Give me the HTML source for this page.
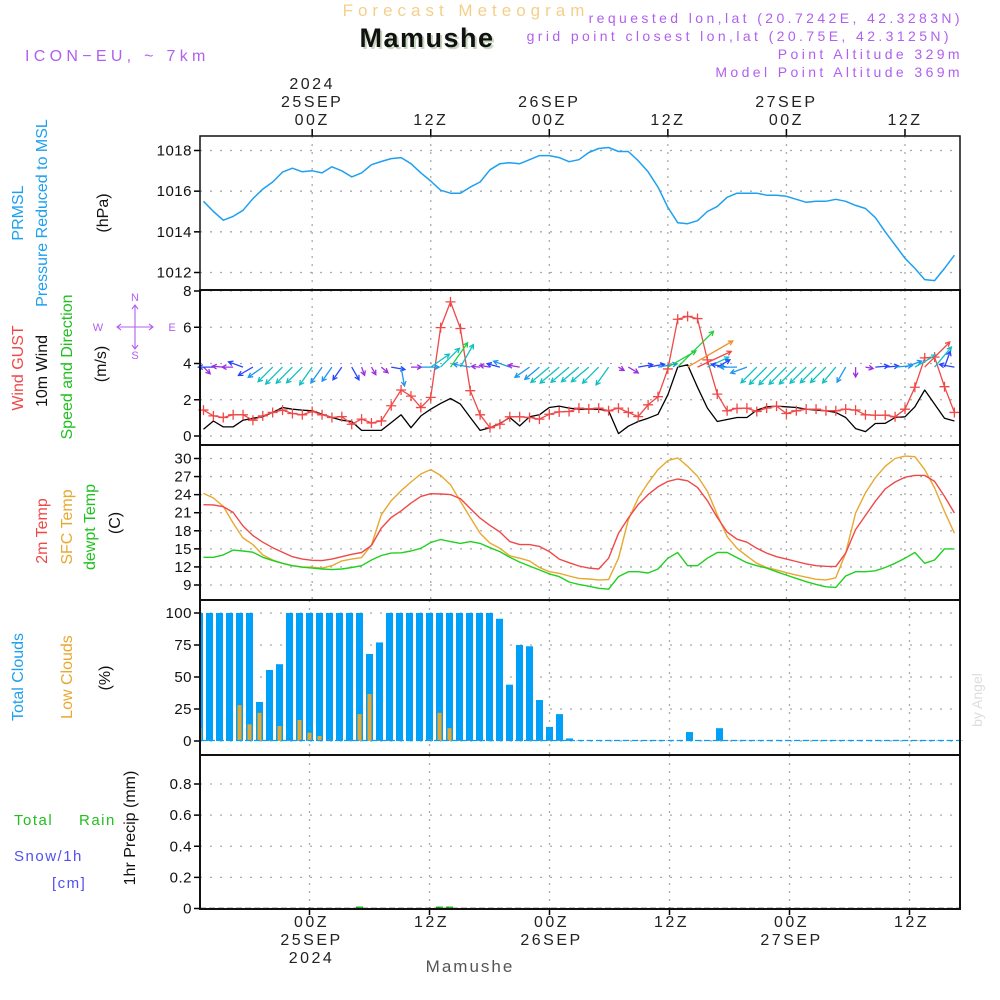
<!DOCTYPE html>
<html><head><meta charset="utf-8"><title>Forecast Meteogram Mamushe</title>
<style>
html,body{margin:0;padding:0;background:#fff;}
svg{display:block;}
text{font-family:"Liberation Sans",sans-serif;}
</style></head>
<body>
<svg id="chart" width="1000" height="1000" viewBox="0 0 1000 1000" xmlns="http://www.w3.org/2000/svg">
<g id="header">
<text x="466" y="16" text-anchor="middle" font-size="17" fill="#f5cf8a" letter-spacing="5">Forecast Meteogram</text>
<text x="429" y="49" text-anchor="middle" font-size="27" font-weight="bold" font-family="Liberation Serif, serif" fill="#c8d8c0" letter-spacing="1.5">Mamushe</text>
<text x="427" y="47" text-anchor="middle" font-size="27" font-weight="bold" font-family="Liberation Serif, serif" fill="#111" letter-spacing="1.5">Mamushe</text>
<text x="25" y="61" font-size="16" fill="#b060f0" letter-spacing="4.3">ICON−EU, ~ 7km</text>
<text x="963" y="23" text-anchor="end" font-size="14" fill="#b060f0" letter-spacing="3.4">requested lon,lat (20.7242E, 42.3283N)</text>
<text x="952" y="41" text-anchor="end" font-size="14" fill="#b060f0" letter-spacing="3.4">grid point closest lon,lat (20.75E, 42.3125N)</text>
<text x="963" y="59" text-anchor="end" font-size="14" fill="#b060f0" letter-spacing="3.4">Point Altitude 329m</text>
<text x="963" y="77" text-anchor="end" font-size="14" fill="#b060f0" letter-spacing="3.4">Model Point Altitude 369m</text>
</g>
<g id="grid"></g>
<g id="marks"></g>
<g id="frames"></g>
<g id="labels"></g>
<text x="982" y="700" font-size="14" font-family="Liberation Serif, serif" fill="#ddd" transform="rotate(-90 982 700)" text-anchor="middle">by Angel</text>
<text x="470" y="972" text-anchor="middle" font-size="17" font-family="Liberation Serif, serif" fill="#555" letter-spacing="2">Mamushe</text>
</svg>
<script>
const pressure = [1015.5,1015.0,1014.57,1014.76,1015.06,1015.63,1016.1,1016.45,1016.94,1017.13,1016.95,1017.0,1016.9,1017.2,1017.0,1016.7,1016.9,1017.3,1017.46,1017.6,1017.65,1017.35,1016.9,1016.5,1016.05,1015.9,1015.9,1016.2,1016.45,1017.05,1017.35,1017.4,1017.35,1017.55,1017.75,1017.75,1017.65,1017.45,1017.55,1017.9,1018.1,1018.15,1017.95,1017.95,1017.5,1016.95,1016.2,1015.2,1014.45,1014.4,1014.55,1015.0,1015.25,1015.7,1015.9,1015.9,1015.9,1015.8,1015.8,1015.75,1015.6,1015.45,1015.5,1015.5,1015.6,1015.5,1015.3,1015.15,1014.7,1014.0,1013.35,1012.7,1012.2,1011.65,1011.6,1012.2,1012.85];
const gust = [1.43,1.11,1.02,1.17,1.17,0.87,1.11,1.3,1.43,1.24,1.17,1.35,1.17,1.02,1.07,0.65,0.93,0.72,0.83,1.67,2.54,2.2,1.57,2.13,5.98,7.4,5.93,2.5,1.17,0.46,0.65,1.06,1.06,1.02,0.93,1.2,1.33,1.35,1.54,1.5,1.54,1.39,1.54,1.3,1.07,1.72,2.17,3.7,6.44,6.6,6.48,4.2,2.31,1.39,1.52,1.54,1.35,1.54,1.65,1.24,1.39,1.48,1.48,1.39,1.39,1.48,1.43,1.17,1.15,1.15,1.06,1.48,2.69,4.31,4.35,2.72,1.3];
const windSpeed = [0.37,0.83,0.5,0.5,0.87,0.98,1.06,1.3,1.57,1.48,1.43,1.39,1.2,1.02,0.87,0.8,0.31,0.31,0.31,0.74,1.17,0.46,1.11,1.48,1.8,2.07,1.76,1.02,0.31,0.46,0.69,1.02,0.56,1.06,1.17,1.57,1.65,1.54,1.48,1.48,1.48,1.39,0.13,0.54,0.8,0.98,1.2,2.28,3.8,3.93,2.69,1.54,0.8,0.91,1.02,1.02,1.43,1.61,1.65,1.61,1.57,1.48,1.43,1.39,1.3,1.02,0.41,0.24,0.69,0.7,1.02,1.06,1.61,2.54,1.76,0.98,0.83];
const windDir = [135,270,275,270,290,240,235,225,225,225,225,215,215,215,215,150,160,150,130,100,170,90,90,55,45,35,30,280,275,280,285,290,280,235,230,230,230,230,230,230,225,215,120,120,80,80,80,60,45,60,65,65,60,280,270,250,225,225,225,225,225,225,225,225,220,210,180,100,85,85,85,70,60,45,40,20,280];
const temp2m = [22.33,22.3,22.0,21.05,18.8,17.2,16.1,15.2,14.45,13.7,13.3,13.1,13.05,13.3,13.7,14.1,14.4,15.55,18.45,20.2,21.3,22.6,23.7,24.15,24.1,24.0,23.35,21.7,20.1,18.9,17.8,16.2,15.7,15.7,15.4,14.55,13.3,12.7,12.15,11.8,11.65,13.45,17.6,20.1,22.35,24.0,25.3,26.2,26.6,26.3,25.2,23.0,20.2,17.8,16.6,16.1,15.1,14.3,13.7,13.3,12.9,12.5,12.2,12.1,12.05,14.3,18.2,20.55,22.9,24.95,26.1,26.9,27.2,27.2,26.2,23.7,20.95];
const tempSfc = [24.2,23.45,22.05,19.3,16.8,15.7,14.0,13.15,12.6,12.2,12.0,11.95,11.8,12.2,13.0,13.3,13.55,15.65,20.65,23.0,24.65,26.1,27.45,28.15,27.2,25.65,22.9,20.2,17.6,15.95,15.1,13.85,13.45,13.0,11.9,11.2,10.95,10.5,10.1,10.0,9.85,9.9,13.45,19.8,23.45,25.95,28.15,29.65,30.1,28.7,27.05,24.55,20.65,17.05,15.1,13.8,12.6,11.9,11.5,11.05,10.65,10.3,9.95,9.85,10.2,14.3,20.95,24.3,26.8,28.7,30.0,30.4,30.3,28.15,25.1,21.2,17.6];
const dewpt = [13.6,13.6,14.0,14.8,14.65,14.45,13.6,13.05,12.6,12.2,11.95,11.8,11.65,11.55,11.65,11.9,12.2,13.15,13.9,14.3,14.35,14.65,15.1,16.05,16.55,16.2,15.9,16.2,15.9,15.2,14.55,13.6,12.8,12.15,11.5,10.85,10.4,9.5,9.1,8.8,8.45,8.3,10.4,11.2,11.2,11.0,11.65,13.45,14.4,12.2,12.2,13.45,14.4,14.4,13.55,12.7,12.2,11.8,11.2,10.65,10.1,9.55,9.1,8.7,8.6,10.5,11.2,11.2,11.35,11.9,12.6,13.45,14.4,12.6,13.15,15.0,15.0];
const totalClouds = [100,100,100,100,100,100,30.5,55.5,60,100,100,100,100,100,100,100,100,68,77,100,100,100,100,100,100,100,100,100,100,100,95.5,44,75,74,32,11,21,2,0.3,0.3,0.3,0.3,0.3,0.3,0.3,0.3,0.3,0.3,0.3,7,0.3,0.3,10,0.3,0.3,0.3,0.3,0.3,0.3,0.3,0.3,0.3,0.3,0.3,0.3,0.3,0.3,0.3,0.3,0.3,0.3,0.3,0.3,0.3,0.3,0.3,0.3];
const lowClouds = [10.4,0.3,0.3,0.3,28,13,22,0.3,11.7,0.3,16.4,6.5,3.9,1,0.3,0.3,21,36.7,0.3,0.3,0.3,0.3,0.3,1,22,10,0.3,0.3,0.3,0.3,0.3,0.3,0.3,0.3,0.3,0.3,0.3,0.3,0.3,0.3,0.3,0.3,0.3,0.3,0.3,0.3,0.3,0.3,0.3,0.3,0.3,0.3,0.3,0.3,0.3,0.3,0.3,0.3,0.3,0.3,0.3,0.3,0.3,0.3,0.3,0.3,0.3,0.3,0.3,0.3,0.3,0.3,0.3,0.3,0.3,0.3,0.3];
const rainIdx = [16,24,25];
const rainVals = [0.002,0.012,0.006];
const pressureTicks = [1012,1014,1016,1018];
const windTicks = [0,2,4,6,8];
const tempTicks = [9,12,15,18,21,24,27,30];
const cloudTicks = [0,25,50,75,100];
const precipTicks = [0,0.2,0.4,0.6,0.8];
const precipTickLabels = ["0","0.2","0.4","0.6","0.8"];
const timeIdx = [11,23,35,47,59,71];
const topTimeLabels = [["2024","25SEP","00Z"],["12Z"],["26SEP","00Z"],["12Z"],["27SEP","00Z"],["12Z"]];
const bottomTimeLabels = [["00Z","25SEP","2024"],["12Z"],["00Z","26SEP"],["12Z"],["00Z","27SEP"],["12Z"]];

const NS = "http://www.w3.org/2000/svg";
const X0 = 200, X1 = 960;
function xL(i){ return 203.5 + 9.88*i; }
function xC(k){ return 199.5 + 10*k; }
function lin(d0,d1,r0,r1){ return v => r0 + (v-d0)*(r1-r0)/(d1-d0); }
const yP = lin(1012,1018,272.5,150.5);
const yW = lin(0,8,436,291);
const yT = lin(9,30,585,458.5);
const yC = lin(0,100,741,613);
const yR = lin(0,0.8,908.5,784);
const panels = [[136,290],[290,445],[445,600],[600,755],[755,909]];

function mk(tag, attrs, parent){
  const e = document.createElementNS(NS, tag);
  for (const k in attrs) e.setAttribute(k, attrs[k]);
  parent.appendChild(e);
  return e;
}
const grid = document.getElementById('grid');
const marks = document.getElementById('marks');
const frames = document.getElementById('frames');
const labels = document.getElementById('labels');

function hgrid(vals, yf, name, tickLabels){
  vals.forEach((v,j) => {
    const y = yf(v);
    const l = mk('line', {x1:X0, x2:X1, y1:y, y2:y, stroke:'#aaa', 'stroke-width':1.3, 'stroke-dasharray':'2,8'}, grid);
    
    
    const t = mk('line', {x1:194, x2:X0, y1:y, y2:y, stroke:'#000', 'stroke-width':1.5}, frames);
    
    
    const tx = mk('text', {x:192, y:y+5, 'text-anchor':'end', 'font-size':15, fill:'#111', 'letter-spacing':0.5}, labels);
    tx.textContent = tickLabels ? tickLabels[j] : String(v);
    
    
  });
}
hgrid(pressureTicks, yP, 'pressure');
hgrid(windTicks, yW, 'wind');
hgrid(tempTicks, yT, 'temp');
hgrid(cloudTicks, yC, 'cloud');
hgrid(precipTicks, yR, 'precip', precipTickLabels);

timeIdx.forEach(i => {
  for (let p=0;p<3;p++){
    const g = mk('line', {x1:xL(i), x2:xL(i), y1:panels[p][0], y2:panels[p][1], stroke:'#aaa', 'stroke-width':1.3, 'stroke-dasharray':'2,6'}, grid);
    
    
  }
  for (let p=3;p<5;p++){
    const g = mk('line', {x1:xC(i), x2:xC(i), y1:panels[p][0], y2:panels[p][1], stroke:'#aaa', 'stroke-width':1.3, 'stroke-dasharray':'2,6'}, grid);
    
    
  }
  const tt = mk('line', {x1:xL(i), x2:xL(i), y1:129, y2:136, stroke:'#000', 'stroke-width':1.5}, frames);
  
  
  const bt = mk('line', {x1:xC(i), x2:xC(i), y1:909, y2:915, stroke:'#000', 'stroke-width':1.5}, frames);
  
  
});
timeIdx.forEach((i,j) => {
  const lines = topTimeLabels[j];
  lines.forEach((s,n) => {
    const t = mk('text', {x:xL(i), y:125 - (lines.length-1-n)*18, 'text-anchor':'middle', 'font-size':16, fill:'#222', 'letter-spacing':2.5}, labels);
    t.textContent = s;
    
    
  });
  bottomTimeLabels[j].forEach((s,n) => {
    const t = mk('text', {x:xC(i)+2, y:927 + n*18, 'text-anchor':'middle', 'font-size':16, fill:'#222', 'letter-spacing':2.5}, labels);
    t.textContent = s;
    
    
  });
});

function polyline(vals, yf, color, name, w){
  const pts = vals.map((v,i) => xL(i).toFixed(1) + ',' + yf(v).toFixed(1)).join(' ');
  const p = mk('polyline', {points:pts, fill:'none', stroke:color, 'stroke-width':w||1.4, 'stroke-linejoin':'round'}, marks);
  
  
}
polyline(pressure, yP, '#1ea0f0', 'pressure-line', 1.5);
polyline(windSpeed, yW, '#000', 'wind-speed-line', 1.3);
polyline(gust, yW, '#f04848', 'wind-gust-line', 1.3);
gust.forEach((v,i) => {
  const x = xL(i), y = yW(v);
  const c = mk('path', {d:`M${x-5},${y}H${x+5}M${x},${y-5}V${y+5}`, stroke:'#f04848', 'stroke-width':1.3}, marks);
  
  
});

function arrowColor(s){
  if (s < 0.6) return '#9b30e0';
  if (s < 1.0) return '#2844ff';
  if (s < 1.3) return '#1e96f0';
  if (s < 2.0) return '#10c0c0';
  if (s < 2.5) return '#20d040';
  if (s < 3.0) return '#f04848';
  if (s < 3.85) return '#20d040';
  return '#f09030';
}
windDir.forEach((d,i) => {
  const s = windSpeed[i];
  const len = 5 + 12*s;
  const a = d*Math.PI/180;
  const x0 = xL(i), y0 = yW(3.8);
  const x1 = x0 + len*Math.sin(a), y1 = y0 - len*Math.cos(a);
  const h = 5, ha = 0.5;
  const bx = -Math.sin(a), by = Math.cos(a);
  const hx1 = x1 + h*(bx*Math.cos(ha) - by*Math.sin(ha)), hy1 = y1 + h*(bx*Math.sin(ha) + by*Math.cos(ha));
  const hx2 = x1 + h*(bx*Math.cos(-ha) - by*Math.sin(-ha)), hy2 = y1 + h*(bx*Math.sin(-ha) + by*Math.cos(-ha));
  const ar = mk('path', {d:`M${x0.toFixed(1)},${y0.toFixed(1)}L${x1.toFixed(1)},${y1.toFixed(1)}M${hx1.toFixed(1)},${hy1.toFixed(1)}L${x1.toFixed(1)},${y1.toFixed(1)}L${hx2.toFixed(1)},${hy2.toFixed(1)}`, stroke:arrowColor(s), 'stroke-width':1.3, fill:'none'}, marks);
  
  
});

polyline(tempSfc, yT, '#e8a830', 'sfc-temp-line', 1.4);
polyline(temp2m, yT, '#f04848', 'temp-2m-line', 1.4);
polyline(dewpt, yT, '#20d020', 'dewpoint-line', 1.4);

totalClouds.forEach((v,k) => {
  const x = Math.max(X0, xC(k) - 3.5), x2 = xC(k) + 3.5;
  const y = yC(v);
  const r = mk('rect', {x:x, y:y, width:Math.max(0,x2-x), height:yC(0)-y, fill:'#00a0f8'}, marks);
  
  
});
lowClouds.forEach((v,k) => {
  const x = Math.max(X0, xC(k) - 2), x2 = xC(k) + 2;
  const y = yC(v);
  const r = mk('rect', {x:x, y:y, width:Math.max(0,x2-x), height:yC(0)-y, fill:'#e8a830'}, marks);
  
  
});
const zl = mk('line', {x1:X0, x2:X1, y1:yC(0)-0.5, y2:yC(0)-0.5, stroke:'#00a0f8', 'stroke-width':1.2, 'stroke-dasharray':'6,3'}, marks);


rainIdx.forEach((k,j) => {
  const y = yR(rainVals[j]);
  const r = mk('rect', {x:xC(k)-3.5, y:Math.min(y, yR(0)-2), width:7, height:Math.max(2, yR(0)-y), fill:'#20c020'}, marks);
  
  
});
const pz = mk('line', {x1:X0, x2:X1, y1:yR(0), y2:yR(0), stroke:'#222', 'stroke-width':1.5, 'stroke-dasharray':'6,3'}, marks);



panels.forEach((p,j) => {
  const r = mk('rect', {x:X0, y:p[0], width:X1-X0, height:p[1]-p[0], fill:'none', stroke:'#111', 'stroke-width':j===0?1.5:2}, frames);
  
  
});

function rot(txt, x, y, color, size, name){
  const t = mk('text', {x:x, y:y, 'text-anchor':'middle', 'font-size':size||16, fill:color, transform:`rotate(-90 ${x} ${y})`}, labels);
  t.textContent = txt;
  
  
}
rot('PRMSL', 23, 213, '#1ea0f0', 16, 'prmsl-title');
rot('Pressure Reduced to MSL', 47, 213, '#1ea0f0', 16, 'pressure-title');
rot('(hPa)', 108, 213, '#111', 16, 'pressure-unit');
rot('Wind GUST', 23, 368, '#f04848', 16, 'gust-title');
rot('10m Wind', 47, 371, '#111', 16, 'wind-title');
rot('Speed and Direction', 72, 367, '#20c020', 16, 'wind-direction-title');
rot('(m/s)', 106, 364, '#111', 16, 'wind-unit');
rot('2m Temp', 47, 531, '#f04848', 16, 'temp-2m-title');
rot('SFC Temp', 72, 527, '#e8a830', 16, 'sfc-temp-title');
rot('dewpt Temp', 95, 527, '#20c020', 16, 'dewpoint-title');
rot('(C)', 120, 523, '#111', 16, 'temp-unit');
rot('Total Clouds', 23, 677, '#1ea0f0', 16, 'total-clouds-title');
rot('Low Clouds', 72, 677, '#e8a830', 16, 'low-clouds-title');
rot('(%)', 110, 678, '#111', 16, 'cloud-unit');
rot('1hr Precip (mm)', 135, 828, '#111', 16, 'precip-title');

function htxt(txt, x, y, color, name){
  const t = mk('text', {x:x, y:y, 'font-size':15, fill:color, 'letter-spacing':1.5}, labels);
  t.textContent = txt;
  
  
}
htxt('Total', 14, 825, '#20c020', 'total-rain-label');
htxt('Rain', 79, 825, '#20c020', 'rain-label');
htxt('Snow/1h', 14, 861, '#5050f0', 'snow-label');
htxt('[cm]', 52, 888, '#5050f0', 'snow-unit');

const cg = mk('g', {}, labels);


const cl = mk('path', {d:'M117,327H153M121,324L117,327L121,330M149,324L153,327L149,330M135,305V349M132,309L135,305L138,309M132,345L135,349L138,345', stroke:'#b060f0', 'stroke-width':1.1, fill:'none'}, cg);


[['W',98,331],['E',172,331],['N',135,301],['S',135,359]].forEach(a => {
  const t = mk('text', {x:a[1], y:a[2], 'text-anchor':'middle', 'font-size':11, fill:'#b060f0'}, cg);
  t.textContent = a[0];
  
  
});
</script>
</body></html>
